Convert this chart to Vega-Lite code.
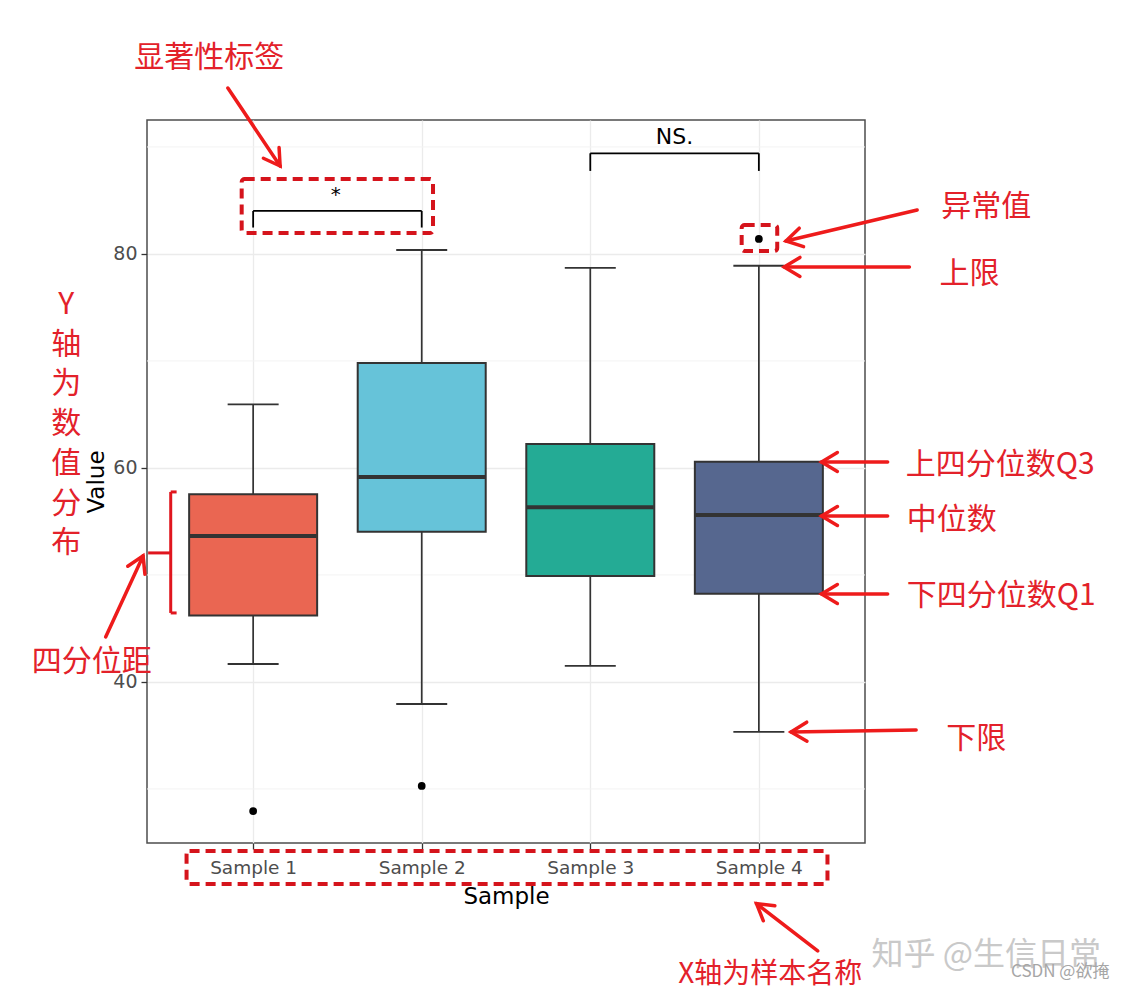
{
  "$schema": "https://vega.github.io/schema/vega-lite/v6.json",
  "width": 718,
  "height": 723,
  "autosize": {"type": "none"},
  "padding": {"left": 147, "top": 120, "right": 270, "bottom": 150},
  "background": "white",
  "config": {"view": {"stroke": "#4D4D4D", "strokeWidth": 1.5}},
  "datasets": {
    "minor": [{"v": 30}, {"v": 50}, {"v": 70}, {"v": 90}],
    "boxes": [
      {"pos": 1, "name": "Sample 1", "lower": 41.68, "q1": 46.2, "median": 53.64, "q3": 57.54, "upper": 65.95},
      {"pos": 2, "name": "Sample 2", "lower": 37.94, "q1": 54.05, "median": 59.16, "q3": 69.81, "upper": 80.37},
      {"pos": 3, "name": "Sample 3", "lower": 41.5, "q1": 49.91, "median": 56.33, "q3": 62.24, "upper": 78.7},
      {"pos": 4, "name": "Sample 4", "lower": 35.33, "q1": 48.25, "median": 55.61, "q3": 60.59, "upper": 78.9}
    ],
    "outliers": [
      {"pos": 1, "value": 27.94},
      {"pos": 2, "value": 30.28},
      {"pos": 4, "value": 81.4}
    ],
    "sig": [
      {"x": 1, "x2": 2, "y": 84.02, "y2": 84.02},
      {"x": 1, "x2": 1, "y": 84.02, "y2": 82.47},
      {"x": 2, "x2": 2, "y": 84.02, "y2": 82.47},
      {"x": 3, "x2": 4, "y": 89.41, "y2": 89.41},
      {"x": 3, "x2": 3, "y": 89.41, "y2": 87.76},
      {"x": 4, "x2": 4, "y": 89.41, "y2": 87.76}
    ],
    "sigtext": [
      {"x": 1.49, "y": 84.95, "label": "*"}
    ],
    "nstext": [
      {"x": 3.5, "y": 90.9, "label": "NS."}
    ],
    "rects": [
      {"x": 0.932, "x2": 2.067, "y": 87.01, "y2": 81.96},
      {"x": 3.898, "x2": 4.109, "y": 82.71, "y2": 80.28},
      {"x": 0.605, "x2": 4.407, "y": 24.21, "y2": 21.12}
    ],
    "arrows": [
      {"x": 0.85, "y": 95.51, "x2": 1.16, "y2": 88.22},
      {"x": 4.939, "y": 84.11, "x2": 4.161, "y2": 81.21},
      {"x": 4.893, "y": 78.79, "x2": 4.15, "y2": 78.79},
      {"x": 4.764, "y": 60.56, "x2": 4.372, "y2": 60.56},
      {"x": 4.764, "y": 55.51, "x2": 4.372, "y2": 55.51},
      {"x": 4.764, "y": 48.22, "x2": 4.372, "y2": 48.22},
      {"x": 4.933, "y": 35.51, "x2": 4.191, "y2": 35.33},
      {"x": 0.125, "y": 44.21, "x2": 0.347, "y2": 51.78},
      {"x": 4.349, "y": 14.86, "x2": 3.986, "y2": 19.28}
    ],
    "bracket": [
      {"x": 0.511, "x2": 0.511, "y": 46.45, "y2": 57.76},
      {"x": 0.511, "x2": 0.546, "y": 57.76, "y2": 57.76},
      {"x": 0.511, "x2": 0.546, "y": 46.45, "y2": 46.45},
      {"x": 0.377, "x2": 0.511, "y": 52.06, "y2": 52.06}
    ],
    "labels": [
      {"x": 0.739, "y": 98.32, "label": "显著性标签"},
      {"x": 5.349, "y": 84.39, "label": "异常值"},
      {"x": 5.249, "y": 78.13, "label": "上限"},
      {"x": 5.431, "y": 60.28, "label": "上四分位数Q3"},
      {"x": 5.144, "y": 55.14, "label": "中位数"},
      {"x": 5.437, "y": 48.04, "label": "下四分位数Q1"},
      {"x": 5.29, "y": 34.67, "label": "下限"},
      {"x": 0.043, "y": 41.9, "label": "四分位距"},
      {"x": -0.109, "y": 75.23, "label": "Y\n轴\n为\n数\n值\n分\n布"}
    ],
    "xlabel": [
      {"x": 4.068, "y": 12.6, "label": "X轴为样本名称"}
    ],
    "wm1": [{"x": 5.349, "y": 14.49, "label": "知乎 @生信日常"}],
    "wm2": [{"x": 5.788, "y": 12.9, "label": "CSDN @欲掩"}]
  },
  "layer": [
    {
      "data": {"name": "minor"},
      "mark": {"type": "rule", "color": "#F3F3F3", "strokeWidth": 1},
      "encoding": {
        "y": {"field": "v", "type": "quantitative", "scale": {"domain": [24.95, 92.52], "nice": false, "zero": false}}
      }
    },
    {
      "data": {"name": "boxes"},
      "mark": {"type": "rule", "color": "#333333", "strokeWidth": 1.7},
      "encoding": {
        "x": {
          "field": "pos", "type": "quantitative",
          "scale": {"domain": [0.4, 4.6], "nice": false, "zero": false},
          "axis": {
            "values": [1, 2, 3, 4],
            "labelExpr": "'Sample ' + datum.value",
            "grid": true, "gridColor": "#EBEBEB", "gridWidth": 1.3,
            "domain": false,
            "tickColor": "#333333", "tickSize": 6, "tickWidth": 1.3,
            "labelFont": "DejaVu Sans", "labelFontSize": 18.5, "labelColor": "#4D4D4D", "labelPadding": 9,
            "title": "Sample", "titleFont": "DejaVu Sans", "titleFontSize": 23, "titleFontWeight": "normal", "titleColor": "#000000", "titlePadding": 9
          }
        },
        "y": {
          "field": "lower", "type": "quantitative",
          "scale": {"domain": [24.95, 92.52], "nice": false, "zero": false},
          "axis": {
            "values": [40, 60, 80],
            "grid": true, "gridColor": "#EBEBEB", "gridWidth": 1.3,
            "domain": false,
            "tickColor": "#333333", "tickSize": 6, "tickWidth": 1.3,
            "labelFont": "DejaVu Sans", "labelFontSize": 19, "labelColor": "#4D4D4D", "labelPadding": 4,
            "title": "Value", "titleFont": "DejaVu Sans", "titleFontSize": 23, "titleFontWeight": "normal", "titleColor": "#000000", "titlePadding": 4
          }
        },
        "y2": {"field": "upper"}
      }
    },
    {
      "data": {"name": "boxes"},
      "mark": {"type": "tick", "orient": "horizontal", "size": 51, "thickness": 1.8, "color": "#333333", "opacity": 1},
      "encoding": {
        "x": {"field": "pos", "type": "quantitative", "scale": {"domain": [0.4, 4.6], "nice": false, "zero": false}},
        "y": {"field": "upper", "type": "quantitative", "scale": {"domain": [24.95, 92.52], "nice": false, "zero": false}}
      }
    },
    {
      "data": {"name": "boxes"},
      "mark": {"type": "tick", "orient": "horizontal", "size": 51, "thickness": 1.8, "color": "#333333", "opacity": 1},
      "encoding": {
        "x": {"field": "pos", "type": "quantitative", "scale": {"domain": [0.4, 4.6], "nice": false, "zero": false}},
        "y": {"field": "lower", "type": "quantitative", "scale": {"domain": [24.95, 92.52], "nice": false, "zero": false}}
      }
    },
    {
      "data": {"name": "boxes"},
      "mark": {"type": "bar", "orient": "vertical", "width": 128, "stroke": "#333333", "strokeWidth": 2, "opacity": 1},
      "encoding": {
        "x": {"field": "pos", "type": "quantitative", "scale": {"domain": [0.4, 4.6], "nice": false, "zero": false}},
        "y": {"field": "q1", "type": "quantitative", "scale": {"domain": [24.95, 92.52], "nice": false, "zero": false}},
        "y2": {"field": "q3"},
        "color": {
          "field": "name", "type": "nominal",
          "scale": {"domain": ["Sample 1", "Sample 2", "Sample 3", "Sample 4"], "range": ["#EA6652", "#66C3D9", "#24AB95", "#56678F"]},
          "legend": null
        }
      }
    },
    {
      "data": {"name": "boxes"},
      "mark": {"type": "tick", "orient": "horizontal", "size": 127, "thickness": 4, "color": "#333333", "opacity": 1},
      "encoding": {
        "x": {"field": "pos", "type": "quantitative", "scale": {"domain": [0.4, 4.6], "nice": false, "zero": false}},
        "y": {"field": "median", "type": "quantitative", "scale": {"domain": [24.95, 92.52], "nice": false, "zero": false}}
      }
    },
    {
      "data": {"name": "outliers"},
      "mark": {"type": "point", "filled": true, "size": 60, "color": "#000000", "opacity": 1},
      "encoding": {
        "x": {"field": "pos", "type": "quantitative", "scale": {"domain": [0.4, 4.6], "nice": false, "zero": false}},
        "y": {"field": "value", "type": "quantitative", "scale": {"domain": [24.95, 92.52], "nice": false, "zero": false}}
      }
    },
    {
      "data": {"name": "sig"},
      "mark": {"type": "rule", "color": "#000000", "strokeWidth": 1.8},
      "encoding": {
        "x": {"field": "x", "type": "quantitative", "scale": {"domain": [0.4, 4.6], "nice": false, "zero": false}},
        "x2": {"field": "x2"},
        "y": {"field": "y", "type": "quantitative", "scale": {"domain": [24.95, 92.52], "nice": false, "zero": false}},
        "y2": {"field": "y2"}
      }
    },
    {
      "data": {"name": "sigtext"},
      "mark": {"type": "text", "font": "DejaVu Sans", "fontSize": 20, "color": "#000000", "align": "center", "baseline": "alphabetic"},
      "encoding": {
        "x": {"field": "x", "type": "quantitative", "scale": {"domain": [0.4, 4.6], "nice": false, "zero": false}},
        "y": {"field": "y", "type": "quantitative", "scale": {"domain": [24.95, 92.52], "nice": false, "zero": false}},
        "text": {"field": "label"}
      }
    },
    {
      "data": {"name": "nstext"},
      "mark": {"type": "text", "font": "DejaVu Sans", "fontSize": 22, "color": "#000000", "align": "center", "baseline": "middle"},
      "encoding": {
        "x": {"field": "x", "type": "quantitative", "scale": {"domain": [0.4, 4.6], "nice": false, "zero": false}},
        "y": {"field": "y", "type": "quantitative", "scale": {"domain": [24.95, 92.52], "nice": false, "zero": false}},
        "text": {"field": "label"}
      }
    },
    {
      "data": {"name": "rects"},
      "mark": {"type": "rect", "clip": false, "fillOpacity": 0, "stroke": "#D5141C", "strokeWidth": 4, "strokeDash": [10, 6], "cornerRadius": 3},
      "encoding": {
        "x": {"field": "x", "type": "quantitative", "scale": {"domain": [0.4, 4.6], "nice": false, "zero": false}},
        "x2": {"field": "x2"},
        "y": {"field": "y", "type": "quantitative", "scale": {"domain": [24.95, 92.52], "nice": false, "zero": false}},
        "y2": {"field": "y2"}
      }
    },
    {
      "data": {"name": "arrows"},
      "mark": {"type": "rule", "clip": false, "color": "#EE1B1B", "strokeWidth": 3.5, "strokeCap": "round"},
      "encoding": {
        "x": {"field": "x", "type": "quantitative", "scale": {"domain": [0.4, 4.6], "nice": false, "zero": false}},
        "x2": {"field": "x2"},
        "y": {"field": "y", "type": "quantitative", "scale": {"domain": [24.95, 92.52], "nice": false, "zero": false}},
        "y2": {"field": "y2"}
      }
    },
    {
      "data": {"name": "arrows"},
      "transform": [
        {"calculate": "atan2(-(datum.y2 - datum.y) * 10.7, (datum.x2 - datum.x) * 170.95) * 180 / PI", "as": "ang"}
      ],
      "mark": {"type": "point", "clip": false, "shape": "M-1,-0.6L0,0L-1,0.6", "filled": false, "size": 1000, "color": "#EE1B1B", "strokeWidth": 3.5, "strokeCap": "round", "opacity": 1},
      "encoding": {
        "x": {"field": "x2", "type": "quantitative", "scale": {"domain": [0.4, 4.6], "nice": false, "zero": false}},
        "y": {"field": "y2", "type": "quantitative", "scale": {"domain": [24.95, 92.52], "nice": false, "zero": false}},
        "angle": {"field": "ang", "type": "quantitative", "scale": null}
      }
    },
    {
      "data": {"name": "bracket"},
      "mark": {"type": "rule", "clip": false, "color": "#E0161E", "strokeWidth": 3},
      "encoding": {
        "x": {"field": "x", "type": "quantitative", "scale": {"domain": [0.4, 4.6], "nice": false, "zero": false}},
        "x2": {"field": "x2"},
        "y": {"field": "y", "type": "quantitative", "scale": {"domain": [24.95, 92.52], "nice": false, "zero": false}},
        "y2": {"field": "y2"}
      }
    },
    {
      "data": {"name": "labels"},
      "mark": {"type": "text", "clip": false, "font": "Noto Sans CJK SC", "fontSize": 30, "color": "#E3212A", "align": "center", "baseline": "middle", "lineBreak": "\n", "lineHeight": 39.7},
      "encoding": {
        "x": {"field": "x", "type": "quantitative", "scale": {"domain": [0.4, 4.6], "nice": false, "zero": false}},
        "y": {"field": "y", "type": "quantitative", "scale": {"domain": [24.95, 92.52], "nice": false, "zero": false}},
        "text": {"field": "label"}
      }
    },
    {
      "data": {"name": "xlabel"},
      "mark": {"type": "text", "clip": false, "font": "Noto Sans CJK SC", "fontSize": 28, "color": "#E3212A", "align": "center", "baseline": "middle"},
      "encoding": {
        "x": {"field": "x", "type": "quantitative", "scale": {"domain": [0.4, 4.6], "nice": false, "zero": false}},
        "y": {"field": "y", "type": "quantitative", "scale": {"domain": [24.95, 92.52], "nice": false, "zero": false}},
        "text": {"field": "label"}
      }
    },
    {
      "data": {"name": "wm1"},
      "mark": {"type": "text", "clip": false, "font": "Noto Sans CJK SC", "fontSize": 32, "color": "#C9C9C9", "align": "center", "baseline": "middle"},
      "encoding": {
        "x": {"field": "x", "type": "quantitative", "scale": {"domain": [0.4, 4.6], "nice": false, "zero": false}},
        "y": {"field": "y", "type": "quantitative", "scale": {"domain": [24.95, 92.52], "nice": false, "zero": false}},
        "text": {"field": "label"}
      }
    },
    {
      "data": {"name": "wm2"},
      "mark": {"type": "text", "clip": false, "font": "Noto Sans CJK SC", "fontSize": 17, "color": "#A6A6A6", "align": "center", "baseline": "middle"},
      "encoding": {
        "x": {"field": "x", "type": "quantitative", "scale": {"domain": [0.4, 4.6], "nice": false, "zero": false}},
        "y": {"field": "y", "type": "quantitative", "scale": {"domain": [24.95, 92.52], "nice": false, "zero": false}},
        "text": {"field": "label"}
      }
    }
  ]
}
